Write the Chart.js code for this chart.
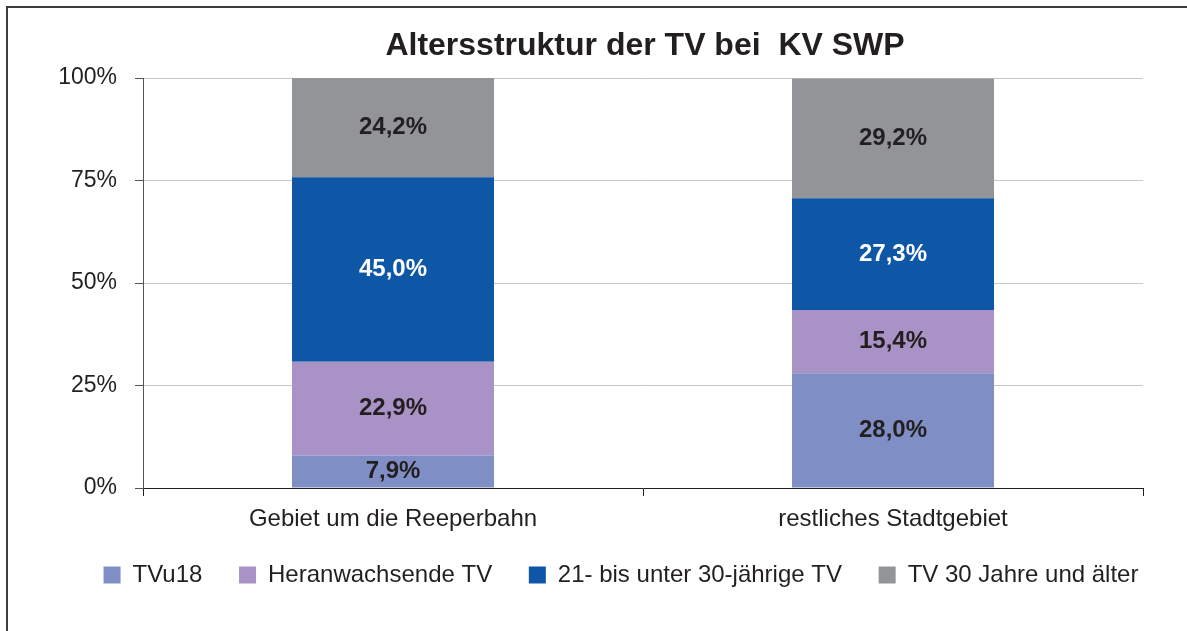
<!DOCTYPE html>
<html>
<head>
<meta charset="utf-8">
<script src="https://cdn.jsdelivr.net/npm/chart.js@4.4.0/dist/chart.umd.min.js"></script>
<style>
  body { margin: 0; background: #fff; }
  #wrap { position: relative; width: 1187px; height: 631px; }
  #frame { position: absolute; left: 6px; top: 6px; right: 0; bottom: 0;
           border-left: 2px solid #3c3c3c; border-top: 2px solid #3c3c3c; }
  canvas { position: absolute; left: 0; top: 0; }
</style>
</head>
<body>
<div id="wrap">
  <div id="frame"></div>
  <canvas id="chart" width="1187" height="631"></canvas>
</div>
<script>
const titleText = 'Altersstruktur der TV bei  KV SWP';
const categories = ['Gebiet um die Reeperbahn', 'restliches Stadtgebiet'];
const seriesNames = ['TVu18', 'Heranwachsende TV', '21- bis unter 30-jährige TV', 'TV 30 Jahre und älter'];
const tvu18 = [7.9, 28.0];
const heranwachsende = [22.9, 15.4];
const tv21to30 = [45.0, 27.3];
const tv30plus = [24.2, 29.2];
const yMax = 100;
const yStep = 25;
const colors = ['#7f8ec5', '#a892c6', '#0e57a7', '#929497'];
const labelColors = ['#231f20', '#231f20', '#ffffff', '#231f20'];

const fontFamily = '"Liberation Sans", Arial, sans-serif';
const textColor = '#231f20';

// title centred over the plot area
const titlePlugin = {
    id: 'plotTitle',
    afterDraw(chart) {
        const ctx = chart.ctx;
        const area = chart.chartArea;
        ctx.save();
        ctx.font = 'bold 32px ' + fontFamily;
        ctx.fillStyle = textColor;
        ctx.textAlign = 'center';
        ctx.textBaseline = 'middle';
        ctx.fillText(titleText, (area.left + area.right) / 2 + 2, 46);
        ctx.restore();
    }
};

// value labels in the middle of each segment
const valueLabels = {
    id: 'valueLabels',
    afterDatasetsDraw(chart) {
        const ctx = chart.ctx;
        ctx.save();
        ctx.font = 'bold 24px ' + fontFamily;
        ctx.textAlign = 'center';
        ctx.textBaseline = 'middle';
        chart.data.datasets.forEach((ds, i) => {
            chart.getDatasetMeta(i).data.forEach((bar, j) => {
                const v = ds.data[j];
                ctx.fillStyle = labelColors[i];
                ctx.fillText(v.toFixed(1).replace('.', ',') + '%', bar.x, (bar.y + bar.base) / 2);
            });
        });
        ctx.restore();
    }
};

const seriesData = [tvu18, heranwachsende, tv21to30, tv30plus];

new Chart(document.getElementById('chart'), {
    type: 'bar',
    data: {
        labels: categories,
        datasets: seriesNames.map((name, i) => ({
            label: name,
            data: seriesData[i],
            backgroundColor: colors[i],
            borderWidth: 0,
            barPercentage: 0.404,
            categoryPercentage: 1
        }))
    },
    options: {
        responsive: false,
        animation: false,
        layout: { padding: { left: 55, right: 0, top: 78, bottom: 34 } },
        plugins: {
            title: { display: false },
            tooltip: { enabled: false },
            legend: {
                position: 'bottom',
                labels: {
                    font: { family: fontFamily, size: 24 },
                    color: textColor,
                    boxWidth: 17,
                    boxHeight: 17,
                    padding: 10,
                    generateLabels(chart) {
                        const items = Chart.defaults.plugins.legend.labels.generateLabels(chart);
                        // extra room between entries
                        return items.map((it, i) => ({ ...it, text: i < items.length - 1 ? it.text + '    ' : it.text }));
                    }
                }
            }
        },
        scales: {
            x: {
                stacked: true,
                grid: { display: true, drawOnChartArea: false, offset: true, tickLength: 8, color: '#231f20' },
                border: { color: '#231f20', width: 1 },
                ticks: { font: { family: fontFamily, size: 24 }, color: textColor, padding: 9 },
                afterFit(scale) { scale.height = 65; }
            },
            y: {
                stacked: true,
                min: 0,
                max: yMax,
                grid: { color: '#c8c8c8', tickColor: '#555555', tickLength: 8 },
                border: { color: '#555555', width: 1 },
                ticks: {
                    stepSize: yStep,
                    font: { family: fontFamily, size: 23 },
                    color: textColor,
                    padding: 18,
                    callback: v => v + '%'
                },
                afterFit(scale) { scale.width = 88; }
            },
            // empty right-hand axis, only keeps the plot clear of the right edge
            yRight: {
                position: 'right',
                grid: { display: false },
                border: { display: false },
                ticks: { display: false },
                afterFit(scale) { scale.width = 44; }
            }
        }
    },
    plugins: [titlePlugin, valueLabels]
});
</script>
</body>
</html>
